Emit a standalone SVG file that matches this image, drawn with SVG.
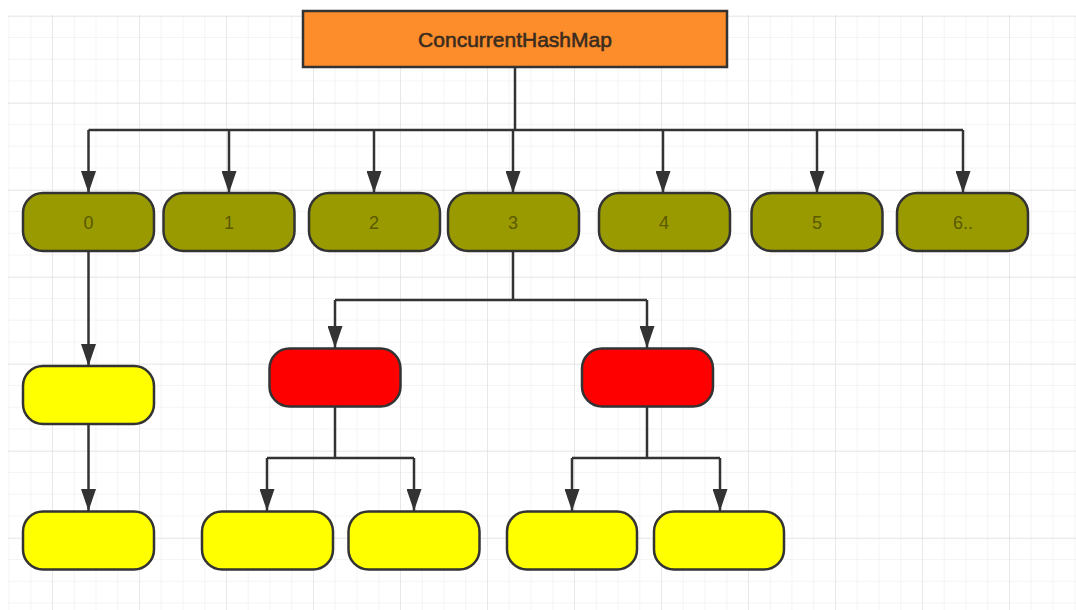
<svg xmlns="http://www.w3.org/2000/svg" width="1076" height="610" viewBox="0 0 1076 610">
<style>
.edge{fill:none;stroke:#333333;stroke-width:2.5}
.node{stroke:#333333;stroke-width:2.5}
.olive{fill:#999900}
.yellow{fill:#ffff00}
.red{fill:#ff0000}
.lbl{font-family:"Liberation Sans",Arial,sans-serif;font-size:18px;fill:#5a5a00;text-anchor:middle}
.title{font-family:"Liberation Sans",Arial,sans-serif;font-size:21px;fill:#3a2c1e;stroke:#3a2c1e;stroke-width:0.6;text-anchor:middle}
</style>
<defs>
<pattern id="minor" x="8.5" y="15.25" width="21.75" height="21.75" patternUnits="userSpaceOnUse">
<path d="M0 0H21.75M0 0V21.75" fill="none" stroke="#eaeaea" stroke-width="1"/>
</pattern>
<pattern id="major" x="52" y="16" width="87" height="87" patternUnits="userSpaceOnUse">
<path d="M0 0H87M0 0V87" fill="none" stroke="#dcdcdc" stroke-width="1"/>
</pattern>
<marker id="arr" viewBox="0 0 22 15" refX="22" refY="7.5" markerWidth="22" markerHeight="15" markerUnits="userSpaceOnUse" orient="auto">
<path d="M0 0L22 7.5L0 15Z" fill="#333333"/>
</marker>
</defs>
<rect width="1076" height="610" fill="#ffffff"/>
<rect x="8" y="15" width="1068" height="595" fill="url(#minor)"/>
<rect x="8" y="15" width="1068" height="595" fill="url(#major)"/>

<g id="connectors">
<path class="edge" d="M515 67V130"/>
<path class="edge" d="M88.5 130H963"/>
<path class="edge" d="M88.5 130V193" marker-end="url(#arr)"/>
<path class="edge" d="M229 130V193" marker-end="url(#arr)"/>
<path class="edge" d="M374 130V193" marker-end="url(#arr)"/>
<path class="edge" d="M513 130V193" marker-end="url(#arr)"/>
<path class="edge" d="M663 130V193" marker-end="url(#arr)"/>
<path class="edge" d="M817 130V193" marker-end="url(#arr)"/>
<path class="edge" d="M963 130V193" marker-end="url(#arr)"/>
<path class="edge" d="M88.5 251V366" marker-end="url(#arr)"/>
<path class="edge" d="M88.5 424V511" marker-end="url(#arr)"/>
<path class="edge" d="M513 251V300"/>
<path class="edge" d="M335 300H647"/>
<path class="edge" d="M335 300V348" marker-end="url(#arr)"/>
<path class="edge" d="M647 300V348" marker-end="url(#arr)"/>
<path class="edge" d="M335 407V458"/>
<path class="edge" d="M267 458H414"/>
<path class="edge" d="M267 458V511" marker-end="url(#arr)"/>
<path class="edge" d="M414 458V511" marker-end="url(#arr)"/>
<path class="edge" d="M647 407V458"/>
<path class="edge" d="M572 458H720"/>
<path class="edge" d="M572 458V511" marker-end="url(#arr)"/>
<path class="edge" d="M720 458V511" marker-end="url(#arr)"/>
</g>

<g id="root">
<rect x="303" y="11" width="424" height="56" fill="#fd8c2b" stroke="#333333" stroke-width="2.5"/>
<text class="title" x="515" y="46.5">ConcurrentHashMap</text>
</g>

<g id="seg0"><rect class="node olive" x="23" y="193" width="131" height="58" rx="20"/><text class="lbl" x="88.5" y="229">0</text></g>
<g id="seg1"><rect class="node olive" x="163.5" y="193" width="131" height="58" rx="20"/><text class="lbl" x="229" y="229">1</text></g>
<g id="seg2"><rect class="node olive" x="309" y="193" width="131" height="58" rx="20"/><text class="lbl" x="374" y="229">2</text></g>
<g id="seg3"><rect class="node olive" x="448" y="193" width="131" height="58" rx="20"/><text class="lbl" x="513" y="229">3</text></g>
<g id="seg4"><rect class="node olive" x="599" y="193" width="131" height="58" rx="20"/><text class="lbl" x="664" y="229">4</text></g>
<g id="seg5"><rect class="node olive" x="751.5" y="193" width="131" height="58" rx="20"/><text class="lbl" x="817" y="229">5</text></g>
<g id="seg6"><rect class="node olive" x="897" y="193" width="131" height="58" rx="20"/><text class="lbl" x="963" y="229">6..</text></g>

<g id="list0a"><rect class="node yellow" x="23" y="366" width="131" height="58" rx="20"/></g>
<g id="list0b"><rect class="node yellow" x="23" y="511.5" width="131" height="58" rx="20"/></g>

<g id="treeL"><rect class="node red" x="269.5" y="348.5" width="131" height="58" rx="20"/></g>
<g id="treeR"><rect class="node red" x="582" y="348.5" width="131" height="58" rx="20"/></g>

<g id="leafL1"><rect class="node yellow" x="202" y="511.5" width="131" height="58" rx="20"/></g>
<g id="leafL2"><rect class="node yellow" x="348.5" y="511.5" width="131" height="58" rx="20"/></g>
<g id="leafR1"><rect class="node yellow" x="507" y="511.5" width="130" height="58" rx="20"/></g>
<g id="leafR2"><rect class="node yellow" x="654" y="511.5" width="130" height="58" rx="20"/></g>
</svg>
